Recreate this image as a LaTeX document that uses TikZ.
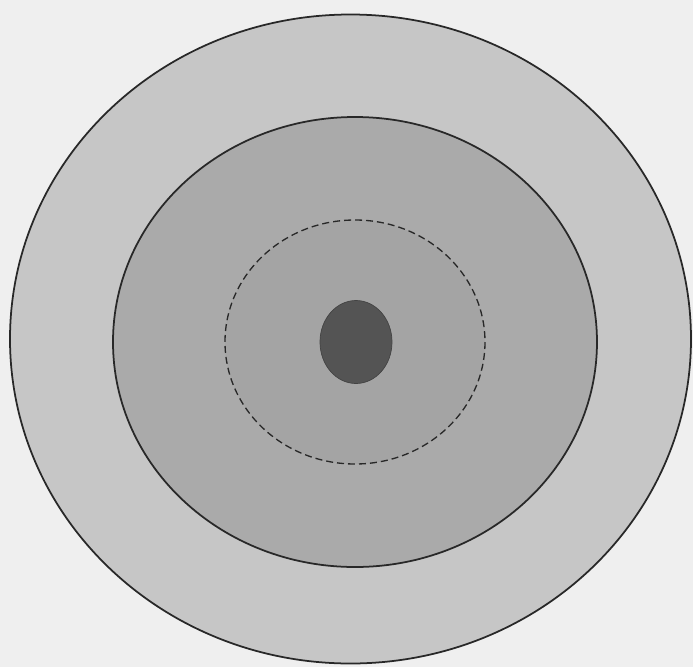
\documentclass[tikz,border=0pt]{standalone}
\usepackage{tikz}
\definecolor{figback}{RGB}{239,239,239}
\definecolor{figouter}{RGB}{198,198,198}
\definecolor{figmiddle}{RGB}{170,170,170}
\definecolor{figinner}{RGB}{164,164,164}
\definecolor{figcore}{RGB}{84,84,84}
\definecolor{figline}{RGB}{40,40,40}
\tikzset{
  ring/.style={draw=figline, line width=1pt},
  dashring/.style={draw=figline, line width=0.75pt, dash pattern=on 1.4mm off 0.8mm},
  core/.style={fill=figcore, draw=figcore!80!black, line width=0.4pt}
}
\begin{document}
\begin{tikzpicture}[x=0.2mm,y=-0.2mm]
  \fill[figback] (0,0) rectangle (693,667);
  \useasboundingbox (0,0) rectangle (693,667);
  \clip (0,0) rectangle (693,667);

  \filldraw[ring, fill=figouter] (350.5,339) ellipse [x radius=340.5, y radius=324.5];
  \filldraw[ring, fill=figmiddle] (355,342) ellipse [x radius=242, y radius=225];
  \filldraw[dashring, fill=figinner] (355,342) ellipse [x radius=130, y radius=122];
  \filldraw[core] (356,342) ellipse [x radius=36, y radius=41.5];
\end{tikzpicture}
\end{document}
